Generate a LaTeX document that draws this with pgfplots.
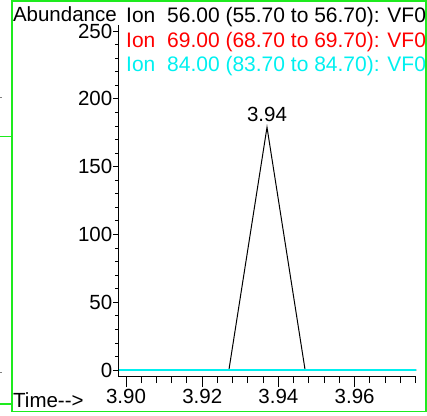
\documentclass[border=0pt]{standalone}
\usepackage{fontspec}
\setmainfont{Liberation Sans}
\usepackage{pgfplots}
\pgfplotsset{compat=1.18}
\definecolor{frameg}{RGB}{30,235,30}
\definecolor{ionred}{RGB}{255,0,0}
\definecolor{ioncyan}{RGB}{0,240,240}
\newcommand{\fs}{\fontsize{20.5}{24}\selectfont}
\newcommand{\fl}{\fontsize{21}{24}\selectfont}
\begin{document}
\begin{tikzpicture}[x=1pt,y=1pt]
\path[use as bounding box] (0,0) rectangle (427,-415);
% frame
\draw[frameg,line width=1.5pt] (11.8,-1) rectangle (425.8,-411.5);
\draw[frameg,line width=1.2pt] (0,-136.5) -- (11,-136.5);
\draw[frameg,line width=1.2pt] (0,-404) -- (11,-404);
\draw[gray,line width=0.8pt] (0,-97) -- (2,-97);
\draw[gray,line width=0.8pt] (0,-372) -- (2,-372);
% axis 1: data and x axis
\begin{axis}[
  at={(118pt,-376pt)}, anchor=south west,
  scale only axis, width=298pt, height=351pt,
  xmin=3.8979, xmax=3.9761, ymin=-4.4, ymax=254.4,
  axis x line*=bottom, axis y line=none,
  axis line style={-, line width=1pt, black},
  tick align=outside,
  xtick={3.90,3.92,3.94,3.96},
  minor xtick={3.904,3.908,3.912,3.916,3.924,3.928,3.932,3.936,3.944,3.948,3.952,3.956,3.964,3.968,3.972,3.976},
  major tick length=11pt, minor tick length=7pt,
  every tick/.style={black, line width=1pt},
  xticklabel style={font=\fs, inner sep=1pt, yshift=-1pt, /pgf/number format/fixed, /pgf/number format/fixed zerofill, /pgf/number format/precision=2, /pgf/number format/assume math mode=true},
]
\addplot[black, line width=1pt] coordinates {
(3.897,0) (3.907,0) (3.917,0) (3.927,0) (3.937,179) (3.947,0) (3.957,0) (3.967,0) (3.977,0)};
\addplot[ionred, line width=1.2pt] coordinates {
(3.897,0) (3.907,0) (3.917,0) (3.927,0) (3.937,0) (3.947,0) (3.957,0) (3.967,0) (3.977,0)};
\addplot[ioncyan, line width=1.8pt] coordinates {
(3.897,0) (3.907,0) (3.917,0) (3.927,0) (3.937,0) (3.947,0) (3.957,0) (3.967,0) (3.977,0)};
\node[font=\fs, anchor=base, inner sep=0pt] at (axis cs:3.937,183) {3.94};
\end{axis}
% axis 2: y axis
\begin{axis}[
  at={(118pt,-376pt)}, anchor=south west,
  scale only axis, width=298pt, height=351pt,
  xmin=3.8979, xmax=3.9761, ymin=-4.4, ymax=254.4,
  axis y line*=left, axis x line=none,
  axis line style={-, line width=1pt, black},
  tick align=outside,
  ytick={0,50,100,150,200,250},
  minor ytick={10,20,30,40,60,70,80,90,110,120,130,140,160,170,180,190,210,220,230,240},
  major tick length=5pt, minor tick length=3pt,
  every tick/.style={black, line width=0.8pt},
  yticklabel style={font=\fs, inner sep=0.5pt, /pgf/number format/assume math mode=true},
]
\addplot[draw=none] coordinates {(3.90,0)};
\end{axis}
% texts
\node[font=\fs, anchor=base west, inner sep=0pt] at (12.8,-21.5) {Abundance};
\node[font=\fs, anchor=base west, inner sep=0pt] at (13,-407) {Time-{}-{}>};
\node[font=\fl, anchor=base west, inner sep=0pt] at (126,-22.7) {Ion};
\node[font=\fl, anchor=base west, inner sep=0pt] at (167,-22.7) {56.00 (55.70 to 56.70): VF0};
\node[font=\fl, anchor=base west, inner sep=0pt, text=ionred] at (126,-47) {Ion};
\node[font=\fl, anchor=base west, inner sep=0pt, text=ionred] at (167,-47) {69.00 (68.70 to 69.70): VF0};
\node[font=\fl, anchor=base west, inner sep=0pt, text=ioncyan] at (126,-71.5) {Ion};
\node[font=\fl, anchor=base west, inner sep=0pt, text=ioncyan] at (167,-71.5) {84.00 (83.70 to 84.70): VF0};
\end{tikzpicture}
\end{document}
